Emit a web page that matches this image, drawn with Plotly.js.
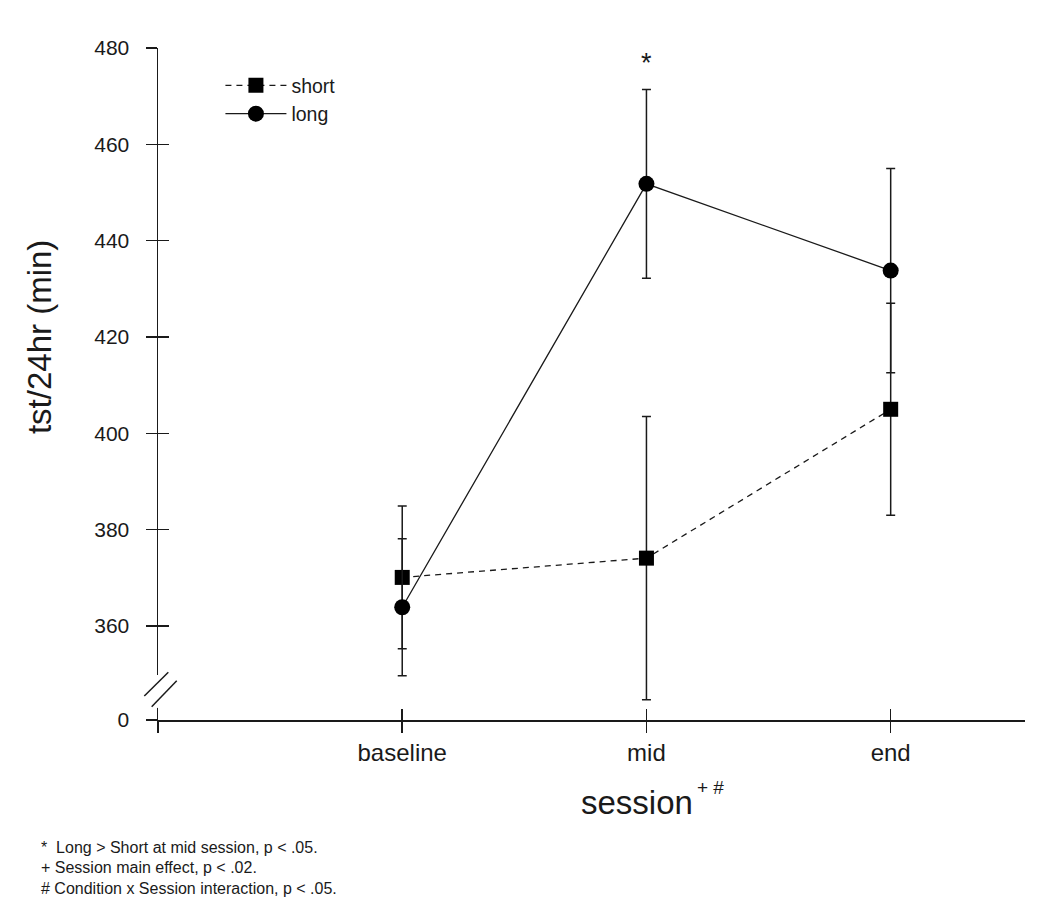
<!DOCTYPE html>
<html>
<head>
<meta charset="utf-8">
<script src="https://cdn.plot.ly/plotly-3.0.1.min.js"></script>
<style>
	html, body { margin: 0; padding: 0; background: #fff; }
	#chart { width: 1050px; height: 917px; }
</style>
</head>
<body>
<div id="chart"></div>
<script>
(function () {

	'use strict';

	// sessions (x positions 1..3, axis starts at 0)
	const sessions = ['baseline', 'mid', 'end'];
	const sessionPos = [1, 2, 3];

	// short condition: mean and error (+/-)
	const shortMean = [370.1, 374.1, 405.0];
	const shortErr = [14.8, 29.4, 22.0];

	// long condition: mean and error (+/-)
	const longMean = [363.9, 451.8, 433.8];
	const longErr = [14.2, 19.6, 21.2];

	// y ticks; bottom tick sits at the axis break and is labelled 0
	const yBreakValue = 340.5;
	const yTickVals = [yBreakValue, 360, 380, 400, 420, 440, 460, 480];
	const yTickText = ['0', '360', '380', '400', '420', '440', '460', '480'];

	const footnotes = [
		'*\u00a0\u00a0Long > Short at mid session, p < .05.',
		'+ Session main effect, p < .02.',
		'# Condition x Session interaction, p < .05.'
	];

	const ink = '#1a1a1a';
	const font = 'Liberation Sans, Arial, Helvetica, sans-serif';

	const errorBars = ( arr ) => ({
		type: 'data',
		array: arr,
		visible: true,
		color: ink,
		thickness: 1.5,
		width: 4.5
	});

	const shortTrace = {
		x: sessionPos,
		y: shortMean,
		name: 'short',
		type: 'scatter',
		mode: 'lines+markers',
		line: { color: ink, width: 1.3, dash: '6px,5px' },
		marker: { symbol: 'square', size: 15, color: '#000' },
		error_y: errorBars( shortErr )
	};

	const longTrace = {
		x: sessionPos,
		y: longMean,
		name: 'long',
		type: 'scatter',
		mode: 'lines+markers',
		line: { color: ink, width: 1.3 },
		marker: { symbol: 'circle', size: 16, color: '#000' },
		error_y: errorBars( longErr )
	};

	// empty trace so the overlay axes (inner tick halves) get drawn
	const overlayTrace = {
		x: [], y: [], xaxis: 'x2', yaxis: 'y2',
		type: 'scatter', showlegend: false, hoverinfo: 'skip'
	};

	const xRange = [0, 3.55];
	const yRange = [yBreakValue, 480];

	const xTickVals = [0].concat( sessionPos );
	const xTickText = [''].concat( sessions );

	// footnotes: one annotation per line to keep the tight line spacing
	const footY = [-0.189, -0.2188, -0.250];
	const footAnnotations = footnotes.map(( txt, i ) => ({
		text: txt,
		xref: 'paper', yref: 'paper', x: -0.1375, y: footY[i],
		xanchor: 'left', yanchor: 'middle', align: 'left', showarrow: false,
		font: { size: 16, family: font, color: ink }
	}));

	const layout = {
		width: 1050,
		height: 917,
		margin: { l: 158, r: 25, t: 48, b: 197 },
		paper_bgcolor: '#fff',
		plot_bgcolor: '#fff',
		font: { family: font, color: ink },
		showlegend: true,
		legend: {
			x: 0.072,
			y: 0.973,
			xanchor: 'left',
			yanchor: 'top',
			bgcolor: 'rgba(0,0,0,0)',
			font: { size: 19.5, family: font, color: ink },
			itemwidth: 61,
			tracegroupgap: 0
		},
		xaxis: {
			range: xRange,
			tickvals: xTickVals,
			ticktext: xTickText,
			showgrid: false,
			zeroline: false,
			showline: true,
			linecolor: ink,
			linewidth: 1.5,
			ticks: 'outside',
			ticklen: 11,
			tickwidth: 1.5,
			tickcolor: ink,
			tickfont: { size: 24, family: font, color: ink },
			fixedrange: true
		},
		xaxis2: {
			overlaying: 'x',
			anchor: 'y2',
			side: 'bottom',
			range: xRange,
			tickvals: xTickVals,
			showticklabels: false,
			showgrid: false,
			zeroline: false,
			showline: false,
			ticks: 'inside',
			ticklen: 11,
			tickwidth: 1.5,
			tickcolor: ink
		},
		yaxis: {
			range: yRange,
			tickvals: yTickVals,
			ticktext: yTickText,
			showgrid: false,
			zeroline: false,
			showline: true,
			linecolor: ink,
			linewidth: 1.5,
			ticks: 'outside',
			ticklen: 11,
			tickwidth: 1.5,
			tickcolor: ink,
			ticklabelstandoff: 12,
			tickfont: { size: 21, family: font, color: ink },
			fixedrange: true
		},
		yaxis2: {
			overlaying: 'y',
			anchor: 'x2',
			side: 'left',
			range: yRange,
			tickvals: yTickVals,
			showticklabels: false,
			showgrid: false,
			zeroline: false,
			showline: false,
			ticks: 'inside',
			ticklen: 11,
			tickwidth: 1.5,
			tickcolor: ink
		},
		shapes: [
			// gap in the y axis line
			{ type: 'rect', xref: 'paper', yref: 'paper', layer: 'above',
				x0: -0.012, x1: 0.012, y0: 0.018, y1: 0.067,
				fillcolor: '#fff', line: { width: 0 } },
			// break marks
			{ type: 'line', xref: 'paper', yref: 'paper', layer: 'above',
				x0: -0.0158, y0: 0.0357, x1: 0.0119, y1: 0.0710,
				line: { color: ink, width: 1.5 } },
			{ type: 'line', xref: 'paper', yref: 'paper', layer: 'above',
				x0: -0.0073, y0: 0.0198, x1: 0.0216, y1: 0.0585,
				line: { color: ink, width: 1.5 } }
		],
		annotations: [
			{ // y title
				text: 'tst/24hr (min)', textangle: -90,
				xref: 'paper', yref: 'paper', x: -0.136, y: 0.570,
				xanchor: 'center', yanchor: 'middle', showarrow: false,
				font: { size: 33, family: font, color: ink }
			},
			{ // x title
				text: 'session',
				xref: 'paper', yref: 'paper', x: 0.553, y: -0.1235,
				xanchor: 'center', yanchor: 'middle', showarrow: false,
				font: { size: 33, family: font, color: ink }
			},
			{
				text: '+ #',
				xref: 'paper', yref: 'paper', x: 0.619, y: -0.101,
				xanchor: 'left', yanchor: 'middle', showarrow: false,
				font: { size: 19, family: font, color: ink }
			},
			{ // significance marker at mid session
				text: '*',
				xref: 'x', yref: 'paper', x: sessionPos[1], y: 0.978,
				xanchor: 'center', yanchor: 'middle', showarrow: false,
				font: { size: 27, family: font, color: ink }
			}
		].concat( footAnnotations )
	};

	Plotly.newPlot(
		'chart',
		[ shortTrace, longTrace, overlayTrace ],
		layout,
		{ displayModeBar: false, staticPlot: true }
	);

})();
</script>
</body>
</html>
